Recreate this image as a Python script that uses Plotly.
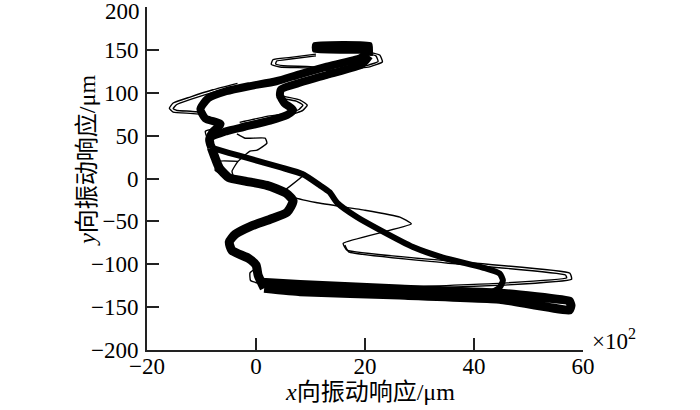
import plotly.graph_objects as go

# ---- tick labels ----
x_ticks = [-20, 0, 20, 40, 60]
y_ticks = [-200, -150, -100, -50, 0, 50, 100, 150, 200]
y_tick_text = ["−200", "−150", "−100", "−50", "0", "50", "100", "150", ""]
y_top_label = "200"

# ---- main (thick) orbit pieces ----
block_x = [20.8, 20.8, 10.9, 10.9, 20.6]
block_y = [143, 155.5, 155.5, 150, 150]

desc_x = [20.6, 19.3, 13.0, 8.0, 3.7, -1.3, -5.5, -8.8, -10.2, -9.3, -6.5, -8.0, -8.6, -8.2]
desc_y = [150, 141, 130.5, 121.5, 113.4, 107.6, 101.7, 93.5, 81, 70, 63.5, 54, 45, 36]

diag_x = [-8.2, -5.0, -1.6, 4.4, 8.6, 11.7, 13.5, 14.9, 18.5, 22.7, 28.8, 34.3, 41.6, 44.7, 45.3, 44.7, 43.5]
diag_y = [36, 30, 24, 13.2, 5, -7.8, -16, -28.5, -45, -60, -80, -92.2, -103.8, -110.8, -119, -127, -132]

bot_x = [1.0, 8.1, 26.4, 44.7, 57.5, 57.8, 57.5, 44.7, 26.4, 8.1, 1.5]
bot_y = [-121, -123.5, -129, -133.7, -143, -148, -153.5, -140.7, -136, -132, -128]

c_x = [1.5, 0.4, 0.0, -1.4, -4.4, -4.9, -3.8, -1.1, 2.6, 5.7, 6.8, 5.5, 2.0, -2.0, -5.0, -6.7, -7.5, -8.2]
c_y = [-128, -113, -101, -93, -84, -74, -65, -56, -47.5, -39.3, -26, -17, -8, -3, 1, 12, 24, 36]

asc_x = [-8.2, -8.4, -5.5, -2.3, 2.6, 5.7, 6.8, 5.2, 4.4, 4.6, 8.3, 13.2, 19.4, 20.8]
asc_y = [36, 47, 55, 60, 67.5, 74, 80, 88, 97, 104, 112.2, 121.3, 133, 143]

# ---- thin (transient) strands ----
left_a_x = [-3.4, -7.9, -12.1, -15.2, -15.9, -15.2, -12.1, -9.3]
left_a_y = [111, 103.5, 95, 88, 82, 77.5, 76, 74.5]
left_b_x = [-3.4, -7.9, -12.0, -14.6, -15.2, -14.5, -12.0, -9.3]
left_b_y = [108, 100.5, 92.2, 86, 81.5, 79.3, 78.5, 77]

right_a_x = [3.8, 8.1, 9.4, 8.6, 6.2, 2.0, -3.0]
right_a_y = [97.5, 91.5, 85.5, 79.5, 73.8, 70.0, 63.0]
right_b_x = [3.8, 7.5, 8.6, 7.9, 5.8, 2.0, -3.0]
right_b_y = [94.5, 90.0, 85.5, 80.5, 76.0, 72.5, 65.5]

top_a_x = [11, 6, 3.1, 2.8, 4.4, 9.9, 14.5]
top_a_y = [145, 141, 138.5, 133, 130, 128.8, 125]
top_b_x = [11, 6, 3.8, 3.6, 5, 10, 14.5]
top_b_y = [143, 139, 137, 133.5, 131.5, 130.5, 127]

topr_a_x = [18.5, 22.7, 23.2, 21.0, 17.0]
topr_a_y = [150, 144, 136, 130.5, 127]
topr_b_x = [18.5, 22.0, 22.4, 20.5, 17.0]
topr_b_y = [148, 143, 136.5, 132, 129]

mid_x = [-3.5, -2.0, 1.7, 2.0, 0.2, -1.1, -3.3, -4.4, -3.8, 1.0, 5.3, 6.6, 11, 20, 26.4, 28.5,
         16.0, 16.7, 35, 57.6, 57.9, 45.3, 28.2, 15]
mid_y = [52, 47, 47, 41, 33, 31.8, 20, 8.5, -2, -8, -13.6, -21, -28, -37, -45, -53,
         -75.6, -83.6, -96, -110.4, -117.5, -124.4, -128.5, -131]
mid_b_x = [16.3, 17.0, 35, 56.8, 57.0, 45.3, 28.2]
mid_b_y = [-77.5, -85.5, -98.5, -112.5, -116, -122, -126.5]

small_x = [-3.3, -6.9, -7.5, -4.7, 1.0]
small_y = [20, 20, 9.7, 0.3, -8]
up_x = [5.3, 9.0, 5.0]
up_y = [-13.6, 6.2, 12]
outer_x = [-6, -9.3, -8.8, -7.5]
outer_y = [60, 55, 45, 38]
bl_x = [0.2, -1.1, -1.0, 1.0]
bl_y = [-104, -110, -119, -123]

fig = go.Figure()

def add(xs, ys, w, smooth=0.6):
    fig.add_trace(go.Scatter(x=xs, y=ys, mode="lines",
                             line=dict(color="black", width=w, shape="spline", smoothing=smooth),
                             hoverinfo="skip", showlegend=False))

# thin strands first
for xs, ys in [(left_a_x, left_a_y), (left_b_x, left_b_y), (right_a_x, right_a_y),
               (right_b_x, right_b_y), (top_a_x, top_a_y), (top_b_x, top_b_y),
               (topr_a_x, topr_a_y), (topr_b_x, topr_b_y), (mid_x, mid_y),
               (mid_b_x, mid_b_y), (small_x, small_y), (up_x, up_y),
               (outer_x, outer_y), (bl_x, bl_y)]:
    add(xs, ys, 1.4, 0.4)

# thick orbit
add(block_x, block_y, 7, 0.2)
add(desc_x, desc_y, 8)
add(asc_x, asc_y, 8)
add(diag_x, diag_y, 6)
add(bot_x, bot_y, 9, 0.3)
add(c_x, c_y, 9)

tick_font = dict(family="Liberation Serif, Times New Roman, serif", size=23, color="black")
title_font = dict(family="Liberation Serif, Noto Sans CJK SC, serif", size=24, color="black")

axis_common = dict(showline=True, linecolor="#222", linewidth=2, ticks="inside", ticklen=12,
                   tickwidth=1.5, tickcolor="#222", showgrid=False, zeroline=False,
                   tickfont=tick_font, mirror=False, ticklabeloverflow="allow")

fig.update_layout(
    width=700, height=410,
    margin=dict(l=147, r=117, t=7, b=60),
    paper_bgcolor="white", plot_bgcolor="white",
    hovermode=False,
    xaxis=dict(range=[-20, 60], tickvals=x_ticks, ticklabelstandoff=-6, **axis_common),
    yaxis=dict(range=[-200, 200], tickvals=y_ticks, ticktext=y_tick_text,
               ticklabelstandoff=2, **axis_common),
    annotations=[
        dict(text=y_top_label, xref="paper", yref="y", x=0, y=200, xshift=-5, yshift=-4,
             xanchor="right", yanchor="middle", showarrow=False, font=tick_font),
        dict(text="<i>x</i>向振动响应/μm", xref="paper", yref="paper", x=0.511, y=-0.122,
             xanchor="center", yanchor="middle", showarrow=False, font=title_font),
        dict(text="<i>y</i>向振动响应/μm", xref="paper", yref="paper", x=-0.138, y=0.554,
             xanchor="center", yanchor="middle", showarrow=False, textangle=-90, font=title_font),
        dict(text="×10<sup>2</sup>", xref="paper", yref="paper", x=1.016, y=0.03,
             xanchor="left", yanchor="middle", showarrow=False, font=tick_font),
    ],
)

fig.write_html("out.html", config={"displayModeBar": False},
               post_script="document.body.style.margin='0';document.body.style.padding='0';")
